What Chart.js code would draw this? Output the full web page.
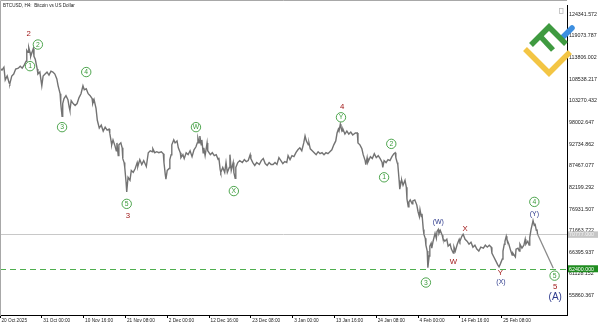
<!DOCTYPE html>
<html><head><meta charset="utf-8">
<script src="https://cdn.jsdelivr.net/npm/chart.js@4.4.1/dist/chart.umd.min.js"></script>
<style>html,body{margin:0;padding:0;background:#fff;}canvas{display:block;}</style>
</head><body>
<canvas id="c" width="598" height="326"></canvas>
<script>
// ---- DATA ----
const chartTitle = 'BTCUSD, H4:  Bitcoin vs US Dollar';
const barsPerTick = 64; // H4 bars between time labels (10 days 16 h)
const timeLabels = ['20 Oct 2025','31 Oct 00:00','10 Nov 16:00','21 Nov 08:00','2 Dec 00:00','12 Dec 16:00','23 Dec 08:00','3 Jan 00:00','13 Jan 16:00','24 Jan 08:00','4 Feb 00:00','14 Feb 16:00','25 Feb 08:00'];
const priceTicks = [124341.572,119073.787,113806.002,108538.217,103270.432,98002.647,92734.862,87467.077,82199.292,76931.507,71663.722,66395.937,61128.152,55860.367];
const bars = [0,3,6,8,11,14,15,18,21,24,28,31,34,37,40,41,43,44,46,47,51,52,54,57,58,61,64,66,69,72,75,78,81,84,87,89,92,93,95,96,98,101,104,106,107,109,112,115,118,121,124,127,129,132,135,138,141,142,144,147,149,152,155,158,161,164,167,168,170,171,173,176,178,179,181,182,185,187,188,190,191,193,194,196,199,201,204,207,210,211,214,217,220,224,227,230,233,234,237,240,243,247,250,251,253,254,256,259,260,262,263,266,268,271,273,276,277,280,282,285,288,291,294,297,300,302,303,305,306,308,309,311,312,314,317,318,322,325,328,331,334,335,337,338,341,344,346,348,351,352,354,357,358,360,361,364,367,371,374,377,380,383,384,387,390,393,397,400,403,406,409,412,415,418,421,424,427,430,433,436,439,441,444,447,450,453,456,459,462,465,467,469,472,473,475,478,481,484,487,490,493,496,499,502,505,508,511,514,516,518,519,521,522,524,525,528,531,534,537,540,544,547,548,551,554,556,559,560,562,563,567,570,573,576,579,582,585,586,588,591,594,597,600,603,605,606,608,609,611,612,614,615,617,620,622,623,625,626,628,631,632,635,638,640,642,643,645,646,648,649,651,652,654,655,657,658,660,661,663,666,668,669,671,672,674,677,678,681,684,686,689,691,694,695,697,700,703,704,707,709,712,715,718,721,724,727,730,733,736,740,743,746,749,752,753,756,759,762,764,766,769,770,772,773,775,776,779,782,784,785,789,790,793,795,796,799,802,804,805,808,810,811,813,815,816,818,819,821,822,823];
const closes = [111244,110765,111483,108370,109328,107652,107412,109328,109807,111004,111244,111722,111244,111962,112920,115553,115075,116272,115075,114117,116032,114117,113399,111004,109807,110286,106934,109328,109807,110286,109567,110525,110286,109807,108610,106934,105018,102624,99511,102624,103821,104539,103581,101666,100947,103342,102624,102145,102624,104060,105018,106934,105976,106215,105018,104539,103821,102624,103581,101426,98553,96637,97356,95919,96877,96158,96398,95440,93525,92567,93764,92327,91130,93046,89933,92567,93046,91848,89215,88257,87060,83468,81073,84665,83947,86341,85862,86820,88257,87299,88975,87778,88736,87299,90651,91130,90891,91609,90651,90891,90651,90891,90412,88257,85383,84186,86341,86820,88975,90172,92567,93764,93046,93525,91848,90651,89454,90172,89215,90651,90172,91130,89693,91370,92088,93046,94243,93046,94722,92567,93764,90651,91848,89933,93046,91130,90172,90651,89933,90172,88975,89454,86581,85862,87060,85862,88257,85862,87060,90172,86341,88257,85862,84426,87060,88257,88736,88257,88975,88496,88736,90172,89215,88257,87538,88257,87778,88736,89215,88017,87538,88257,87778,87778,88257,87778,89454,88736,88017,88496,88257,89933,88975,89933,89693,90651,91370,91848,91130,93046,94722,93525,92567,93046,91609,91130,90651,90172,90891,90412,90651,90172,90651,90412,90891,91370,92567,93525,95440,96398,95919,97595,96877,95919,96398,95201,95919,95201,95680,94961,95440,95440,93046,92567,91609,90172,88736,87778,89454,88257,89693,89215,90412,89454,89933,89215,88257,87060,88736,88257,88975,88736,89693,90412,90651,89454,88257,87778,83947,81792,83468,83947,82750,83947,82271,79397,77482,78679,79158,78200,78918,79158,77961,76285,75087,76763,75087,75806,71975,70777,69820,68143,66707,62636,65510,67904,68622,67425,69101,71017,69820,71496,71975,71017,71735,70538,69820,69101,69580,67904,68383,67186,66228,67665,66707,68383,69580,69101,70298,70777,69580,69101,68383,68862,67665,68143,67186,66707,67665,67425,68143,67665,68143,67665,66228,65270,64312,63355,62876,63594,64791,66707,68383,69101,70298,69580,68383,66707,65749,66228,65270,67186,67425,66707,68383,67425,68143,69580,68383,69101,68143,70059,71975,73411,74130,72932,73411,71735,71975,70777];
const projectionBars = [823, 847];
const projectionPrices = [70777, 62500];
const targetLevel = 62400;
// wave labels: text, style (c = circled green, r = red, b = blue, B = large blue), bar, price
const waveTexts  = ['2','2','1','4','3','5','3','W','X','4','Y','2','1','(W)','X','W','3','Y','(X)','4','(Y)','5','5','(A)'];
const waveStyles = ['r','c','c','c','c','c','r','c','c','r','c','c','c','b','r','r','c','r','b','c','b','c','r','B'];
const waveBars   = [44,58,46,132,95,194,196,300,358,524,522,599,588,671,712,694,652,766,767,818,818,849,850,850];
const wavePrices = [119624,116990,111722,110286,96877,78200,75327,96877,81313,101905,99271,92806,84665,73890,72214,64073,59045,61439,59045,78679,75806,60721,58087,55454];

const FONT = "'Liberation Sans', Arial, sans-serif";
const lastPrice = closes[closes.length - 1];

const levelsPlugin = {
  id: 'levels',
  beforeDatasetsDraw(chart) {
    const {ctx, chartArea: a, scales: {y}} = chart;
    ctx.save();
    ctx.lineWidth = 1;
    let py = Math.round(y.getPixelForValue(lastPrice)) + 0.5;
    ctx.strokeStyle = '#c8c8c8';
    ctx.beginPath(); ctx.moveTo(a.left, py); ctx.lineTo(a.right, py); ctx.stroke();
    py = Math.round(y.getPixelForValue(targetLevel)) + 0.5;
    ctx.strokeStyle = '#4fae4f';
    ctx.setLineDash([6, 4]);
    ctx.beginPath(); ctx.moveTo(a.left, py); ctx.lineTo(a.right, py); ctx.stroke();
    ctx.restore();
  }
};

const wavePlugin = {
  id: 'waves',
  afterDatasetsDraw(chart) {
    const {ctx, scales: {x, y}} = chart;
    ctx.save();
    ctx.textAlign = 'center';
    ctx.textBaseline = 'middle';
    waveTexts.forEach((t, i) => {
      const px = x.getPixelForValue(waveBars[i]);
      const py = y.getPixelForValue(wavePrices[i]);
      const s = waveStyles[i];
      if (s === 'c') {
        ctx.fillStyle = '#ffffff';
        ctx.beginPath(); ctx.arc(px, py, 4.7, 0, Math.PI * 2); ctx.fill();
        ctx.strokeStyle = '#3c9c3c'; ctx.lineWidth = 0.9;
        ctx.stroke();
        ctx.fillStyle = '#3c9c3c';
        ctx.font = '6.8px ' + FONT;
        ctx.fillText(t, px, py + 0.3);
      } else if (s === 'r') {
        ctx.fillStyle = '#a01818';
        ctx.font = '7.8px ' + FONT;
        ctx.fillText(t, px, py);
      } else if (s === 'b') {
        ctx.fillStyle = '#2d3a8c';
        ctx.font = '7px ' + FONT;
        ctx.fillText(t, px, py);
      } else {
        ctx.fillStyle = '#2d3a8c';
        ctx.font = '10px ' + FONT;
        ctx.fillText(t, px, py);
      }
    });
    ctx.restore();
  }
};

const decorPlugin = {
  id: 'decor',
  afterDraw(chart) {
    const {ctx, chartArea: a, scales: {y}} = chart;
    ctx.save();
    // frame
    ctx.strokeStyle = '#a8a8a8'; ctx.lineWidth = 1;
    ctx.beginPath(); ctx.moveTo(0.5, 316); ctx.lineTo(0.5, 0.5); ctx.lineTo(a.right, 0.5); ctx.stroke();
    // title
    ctx.fillStyle = '#222'; ctx.font = '4.6px ' + FONT;
    ctx.textAlign = 'left'; ctx.textBaseline = 'middle';
    ctx.fillText(chartTitle, 3, 6);
    // price boxes on axis
    ctx.font = '5.3px ' + FONT;
    let py = y.getPixelForValue(lastPrice);
    ctx.fillStyle = '#c6c6c6';
    ctx.fillRect(a.right + 1, py - 3, 30, 6.5);
    ctx.fillStyle = '#f4f4f4';
    ctx.fillText(lastPrice.toFixed(3), a.right + 2, py + 0.3);
    py = y.getPixelForValue(targetLevel);
    ctx.fillStyle = '#1f8c1f';
    ctx.fillRect(a.right + 1, py - 3.5, 30, 7);
    ctx.fillStyle = '#ffffff';
    ctx.fillText(targetLevel.toFixed(3), a.right + 2, py + 0.3);
    // small icon
    ctx.strokeStyle = '#bbbbbb'; ctx.lineWidth = 0.8;
    ctx.strokeRect(559.5, 8.5, 3.5, 5);
    // logo
    ctx.lineCap = 'butt'; ctx.lineJoin = 'miter'; ctx.lineWidth = 5.5;
    ctx.strokeStyle = '#f3c544';
    ctx.beginPath(); ctx.moveTo(525, 49); ctx.lineTo(549, 73); ctx.lineTo(570, 52); ctx.stroke();
    ctx.strokeStyle = '#3d8fe0'; ctx.lineCap = 'round';
    ctx.beginPath(); ctx.moveTo(562, 38); ctx.lineTo(572, 28); ctx.stroke();
    ctx.lineCap = 'butt';
    ctx.strokeStyle = '#3f9a40';
    ctx.beginPath(); ctx.moveTo(531, 45); ctx.lineTo(549, 27); ctx.lineTo(566, 44); ctx.stroke();
    ctx.beginPath(); ctx.moveTo(540, 36); ctx.lineTo(553, 50); ctx.stroke();
    ctx.restore();
  }
};

Chart.defaults.font.family = FONT;
new Chart(document.getElementById('c'), {
  type: 'line',
  data: {
    datasets: [
      { data: bars.map((b, i) => ({x: b, y: closes[i]})), borderColor: '#737373', borderWidth: 1.4, pointRadius: 0, tension: 0 },
      { data: projectionBars.map((b, i) => ({x: b, y: projectionPrices[i]})), borderColor: '#8a8a8a', borderWidth: 1.3, pointRadius: 0, tension: 0 }
    ]
  },
  options: {
    responsive: false, animation: false, devicePixelRatio: 1,
    layout: { padding: 0 },
    plugins: { legend: { display: false }, tooltip: { enabled: false } },
    scales: {
      x: {
        type: 'linear', min: 0, max: 868,
        afterBuildTicks: s => { s.ticks = timeLabels.map((t, i) => ({ value: i * barsPerTick })); },
        afterFit: s => { s.height = 11; },
        grid: { display: true, drawOnChartArea: false, drawTicks: true, tickLength: 3, color: '#000' },
        border: { display: true, color: '#000', width: 1 },
        ticks: { autoSkip: false, maxRotation: 0, minRotation: 0, align: 'start', labelOffset: 1.5, padding: 0, color: '#222', font: { size: 4.7 }, callback: (v, i) => timeLabels[i] }
      },
      y: {
        position: 'right', min: 51143, max: 126568,
        afterBuildTicks: s => { s.ticks = priceTicks.map(v => ({ value: v })); },
        afterFit: s => { s.width = 31; },
        grid: { display: true, drawOnChartArea: false, drawTicks: false },
        border: { display: true, color: '#000', width: 1 },
        ticks: { autoSkip: false, padding: 2, color: '#222', font: { size: 5.3 }, callback: v => Number(v).toFixed(3) }
      }
    }
  },
  plugins: [levelsPlugin, wavePlugin, decorPlugin]
});
</script>
</body></html>
